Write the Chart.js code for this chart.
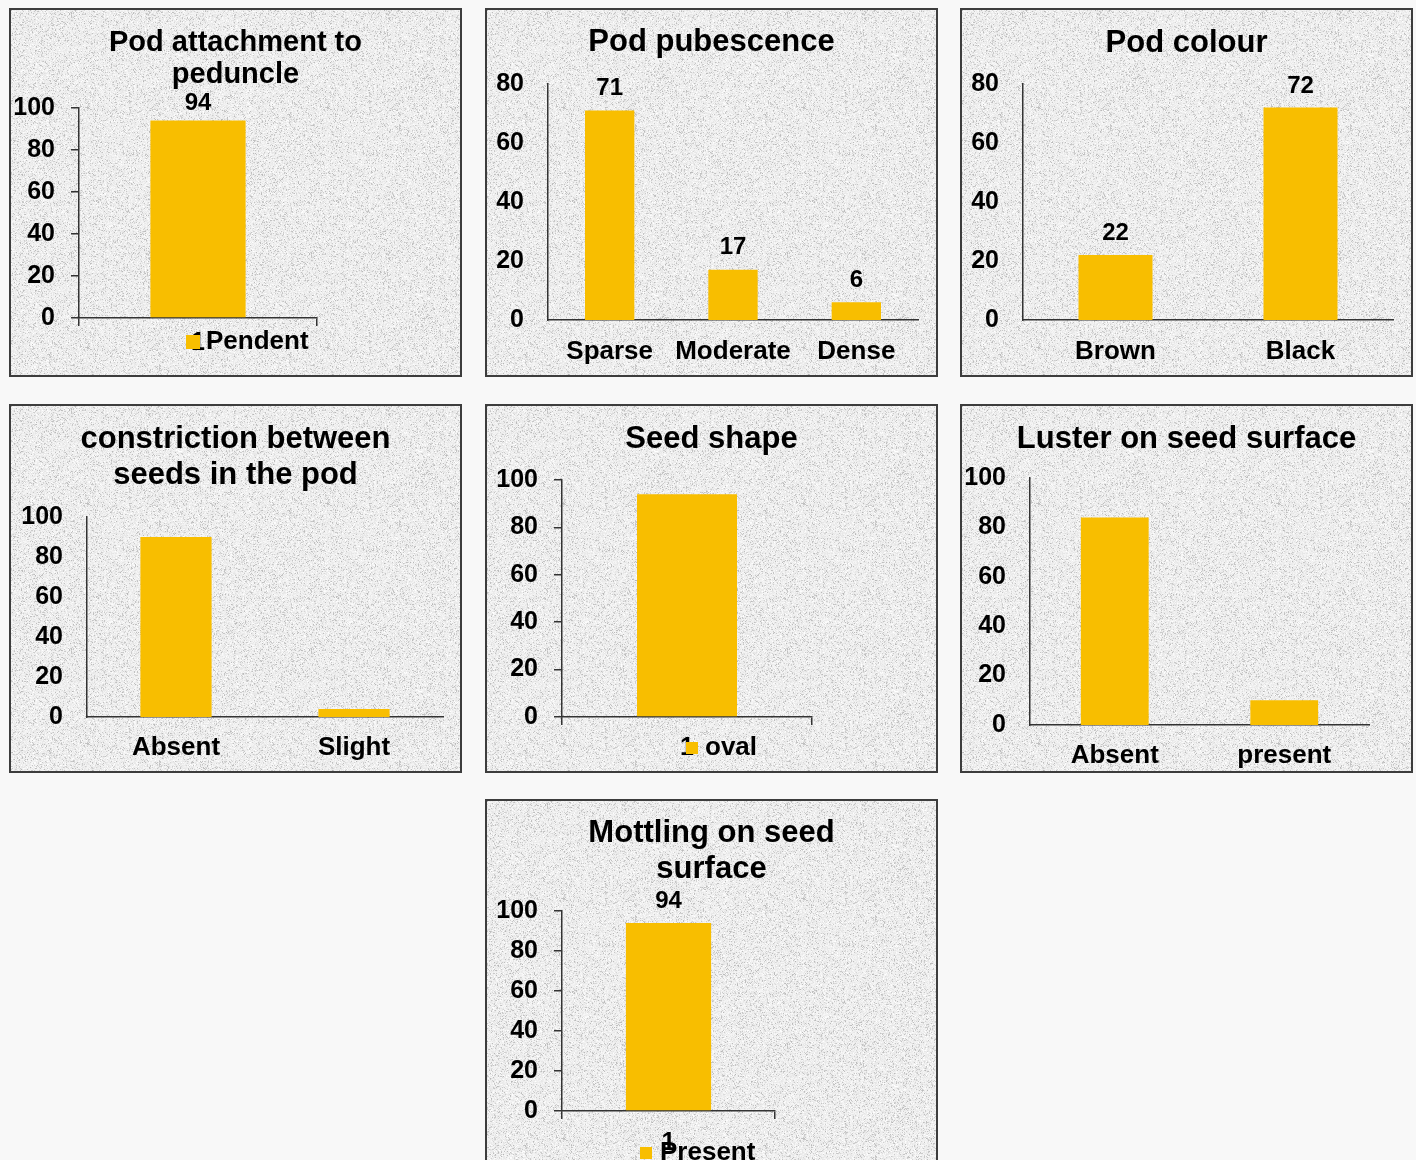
<!DOCTYPE html>
<html>
<head>
<meta charset="utf-8">
<title>Pod and seed characters</title>
<script src="https://cdn.jsdelivr.net/npm/chart.js@4.4.0/dist/chart.umd.min.js"></script>
<style>
  html, body { margin: 0; padding: 0; width: 1416px; height: 1160px; overflow: hidden; background: #f8f8f8; }
  div.panel { position: absolute; border: 2px solid #3d3d3d; width: 449px; height: 365px; overflow: hidden; }
  div.panel canvas { display: block; }
</style>
</head>
<body>
<script>
// ---- data ----
const attachLabels = ['1'];
const attachValues = [94];
const attachSeries = 'Pendent';

const pubescenceLabels = ['Sparse', 'Moderate', 'Dense'];
const pubescenceValues = [71, 17, 6];

const colourLabels = ['Brown', 'Black'];
const colourValues = [22, 72];

const constrictionLabels = ['Absent', 'Slight'];
const constrictionValues = [90, 4];

const shapeLabels = ['1'];
const shapeValues = [94];
const shapeSeries = 'oval';

const lusterLabels = ['Absent', 'present'];
const lusterValues = [84, 10];

const mottlingLabels = ['1'];
const mottlingValues = [94];
const mottlingSeries = 'Present';

const axisMaxWide = 100;
const axisMaxNarrow = 80;
const tickStep = 20;

// ---- look ----
const FONT = '"Liberation Sans", Arial, Helvetica, sans-serif';
const BAR = '#F8BE00';
const INK = '#000000';
const AXIS = '#333333';
const W = 449, H = 365;

Chart.defaults.font.family = FONT;
Chart.defaults.color = INK;

function mulberry32(a) {
  return function () {
    a |= 0; a = a + 0x6D2B79F5 | 0;
    let t = Math.imul(a ^ a >>> 15, 1 | a);
    t = t + Math.imul(t ^ t >>> 7, 61 | t) ^ t;
    return ((t ^ t >>> 14) >>> 0) / 4294967296;
  };
}

// speckled stone backdrop used behind every panel
function stoneTile() {
  const size = 240;
  const raw = document.createElement('canvas');
  raw.width = raw.height = size;
  const g = raw.getContext('2d');
  const img = g.createImageData(size, size);
  const rnd = mulberry32(7);
  for (let i = 0; i < size * size; i++) {
    let v = 238 + (rnd() - 0.5) * 18;
    const r = rnd();
    if (r < 0.16) v -= 18 + 30 * rnd();
    else if (r > 0.90) v += 10;
    v = Math.max(0, Math.min(255, v));
    img.data[i * 4] = v; img.data[i * 4 + 1] = v; img.data[i * 4 + 2] = v; img.data[i * 4 + 3] = 255;
  }
  g.putImageData(img, 0, 0);
  const soft = document.createElement('canvas');
  soft.width = soft.height = size;
  const s = soft.getContext('2d');
  s.fillStyle = '#e8e8e8';
  s.fillRect(0, 0, size, size);
  s.filter = 'blur(0.55px)';
  s.drawImage(raw, 0, 0);
  return soft;
}
const tile = stoneTile();

const stonePlugin = {
  id: 'stone',
  beforeDraw(chart) {
    const ctx = chart.ctx;
    ctx.save();
    ctx.fillStyle = ctx.createPattern(tile, 'repeat');
    ctx.fillRect(0, 0, chart.width, chart.height);
    ctx.restore();
  }
};

// keep the title centred over the whole panel
const centreTitle = {
  id: 'centreTitle',
  afterLayout(chart) {
    const t = chart.titleBlock;
    if (t) { t.left = 0; t.right = chart.width; t.width = chart.width; }
  }
};

const valueLabels = {
  id: 'valueLabels',
  afterDatasetsDraw(chart, args, opts) {
    if (!opts.show) return;
    const ctx = chart.ctx;
    const meta = chart.getDatasetMeta(0);
    const data = chart.data.datasets[0].data;
    ctx.save();
    ctx.font = 'bold 24px ' + FONT;
    ctx.fillStyle = INK;
    ctx.textAlign = 'center';
    ctx.textBaseline = 'middle';
    meta.data.forEach((bar, i) => ctx.fillText(String(data[i]), bar.x, bar.y - opts.offset));
    ctx.restore();
  }
};

const seriesKey = {
  id: 'seriesKey',
  afterDraw(chart, args, opts) {
    if (!opts.show) return;
    const ds = chart.data.datasets[0];
    const ctx = chart.ctx;
    ctx.save();
    ctx.fillStyle = ds.backgroundColor;
    ctx.fillRect(opts.x, opts.y - opts.box / 2, opts.box, opts.box);
    ctx.font = 'bold 26px ' + FONT;
    ctx.fillStyle = INK;
    ctx.textAlign = 'left';
    ctx.textBaseline = 'middle';
    ctx.fillText(ds.label, opts.textX, opts.y);
    ctx.restore();
  }
};

const panels = [
  { origin: [11, 10], area: [79, 108, 317, 318], title: ['Pod attachment to', 'peduncle'], titleSize: 29, titleMid: 32.5,
    labels: attachLabels, values: attachValues, series: attachSeries, yMax: axisMaxWide, marks: true,
    xFont: 25, xPad: 2, valueOffset: 17, key: { x: 186, y: 342, box: 14, textX: 206 } },
  { origin: [487, 10], area: [548, 84, 918, 320], title: 'Pod pubescence', titleSize: 31, titleMid: 32.3,
    labels: pubescenceLabels, values: pubescenceValues, series: 'Pod pubescence', yMax: axisMaxNarrow, marks: false,
    xFont: 26, xPad: 16.4, valueOffset: 22 },
  { origin: [962, 10], area: [1023, 84, 1393, 320], title: 'Pod colour', titleSize: 31, titleMid: 33,
    labels: colourLabels, values: colourValues, series: 'Pod colour', yMax: axisMaxNarrow, marks: false,
    xFont: 26, xPad: 16, valueOffset: 21.5 },
  { origin: [11, 406], area: [87, 517, 443, 717], title: ['constriction between', 'seeds in the pod'], titleSize: 31, titleMid: 33.8,
    labels: constrictionLabels, values: constrictionValues, series: 'constriction', yMax: axisMaxWide, marks: false,
    xFont: 26, xPad: 15 },
  { origin: [487, 406], area: [562, 480, 812, 717], title: 'Seed shape', titleSize: 31, titleMid: 33,
    labels: shapeLabels, values: shapeValues, series: shapeSeries, yMax: axisMaxWide, marks: true,
    xFont: 25, xPad: 8, key: { x: 686, y: 748, box: 12, textX: 705 } },
  { origin: [962, 406], area: [1030, 478, 1369, 725], title: 'Luster on seed surface', titleSize: 31, titleMid: 33,
    labels: lusterLabels, values: lusterValues, series: 'Luster', yMax: axisMaxWide, marks: false,
    xFont: 26, xPad: 15.4 },
  { origin: [487, 801], area: [562, 911, 775, 1111], title: ['Mottling on seed', 'surface'], titleSize: 31, titleMid: 32.8,
    labels: mottlingLabels, values: mottlingValues, series: mottlingSeries, yMax: axisMaxWide, marks: true,
    xFont: 25, xPad: 9, valueOffset: 21.5, key: { x: 640, y: 1153, box: 12, textX: 660 } }
];

panels.forEach((p, n) => {
  const [ox, oy] = p.origin;
  const [al, at, ar, ab] = p.area;
  const frame = document.createElement('div');
  frame.className = 'panel';
  frame.style.left = (ox - 2) + 'px';
  frame.style.top = (oy - 2) + 'px';
  const canvas = document.createElement('canvas');
  canvas.id = 'panel' + (n + 1);
  canvas.width = W; canvas.height = H;
  canvas.style.width = W + 'px';
  canvas.style.height = H + 'px';
  frame.appendChild(canvas);
  document.body.appendChild(frame);

  const lines = Array.isArray(p.title) ? p.title.length : 1;
  const lh = p.titleSize < 30 ? 1.13 : 1.16;
  const lineH = p.titleSize * lh;
  const padTop = p.titleMid - lineH / 2;
  const padBottom = (at - oy) - padTop - lines * lineH;
  const yWidth = al - ox;
  const xHeight = (oy + H) - ab;

  const markGrid = p.marks
    ? { display: true, drawOnChartArea: false, drawTicks: true, tickLength: 8, color: AXIS, lineWidth: 1.5 }
    : { display: false, drawTicks: false };

  new Chart(canvas, {
    type: 'bar',
    data: {
      labels: p.labels,
      datasets: [{
        label: p.series,
        data: p.values,
        backgroundColor: BAR,
        borderWidth: 0,
        categoryPercentage: 1,
        barPercentage: 0.4
      }]
    },
    options: {
      responsive: false,
      animation: false,
      devicePixelRatio: 1,
      events: [],
      layout: { padding: { top: 0, left: 0, bottom: 0, right: (ox + W) - ar } },
      scales: {
        x: {
          grid: markGrid,
          border: { display: true, color: AXIS, width: 1.5 },
          ticks: { font: { size: p.xFont, weight: 'bold' }, color: INK, padding: p.xPad, maxRotation: 0, autoSkip: false },
          afterFit(scale) { scale.height = xHeight; }
        },
        y: {
          min: 0,
          max: p.yMax,
          grid: markGrid,
          border: { display: true, color: AXIS, width: 1.5 },
          ticks: { stepSize: tickStep, font: { size: 25, weight: 'bold' }, color: INK, padding: p.marks ? 16 : 24 },
          afterFit(scale) { scale.width = yWidth; }
        }
      },
      plugins: {
        legend: { display: false },
        tooltip: { enabled: false },
        title: {
          display: true,
          text: p.title,
          color: INK,
          font: { size: p.titleSize, weight: 'bold', lineHeight: lh },
          padding: { top: padTop, bottom: padBottom }
        },
        valueLabels: { show: p.valueOffset !== undefined, offset: p.valueOffset || 0 },
        seriesKey: p.key
          ? { show: true, x: p.key.x - ox, y: p.key.y - oy, box: p.key.box, textX: p.key.textX - ox }
          : { show: false }
      }
    },
    plugins: [stonePlugin, centreTitle, valueLabels, seriesKey]
  });
});
</script>
</body>
</html>
